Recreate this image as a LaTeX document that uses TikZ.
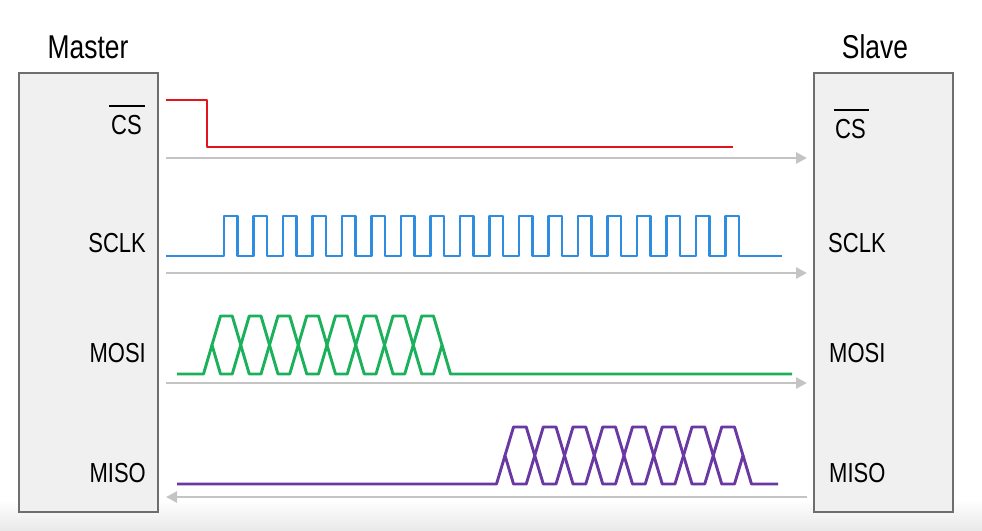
\documentclass[tikz,border=0pt]{standalone}
\usepackage{fontspec}
\setmainfont{Liberation Sans}[FakeStretch=0.80]
\usetikzlibrary{arrows.meta}
\definecolor{boxfill}{HTML}{F0F0F0}
\definecolor{boxline}{HTML}{6E6E6E}
\definecolor{arrgray}{HTML}{C4C4C4}
\definecolor{csred}{HTML}{E3141B}
\definecolor{clkblue}{HTML}{2E8DE0}
\definecolor{mosigreen}{HTML}{1BB05A}
\definecolor{misopurple}{HTML}{6A38A3}
\definecolor{bandgray}{HTML}{E9E9E9}
\tikzset{
  devbox/.style={draw=boxline, fill=boxfill, line width=2pt, minimum width=139pt, minimum height=439pt, inner sep=0pt},
  title/.style={font=\fontsize{33}{36}\selectfont, inner sep=0pt},
  sig/.style={font=\fontsize{27.5}{30}\selectfont, inner sep=0pt},
  wire/.style={draw=arrgray, line width=2.8pt, -{Triangle[length=11pt,width=11pt]}},
  wave/.style={line width=2.9pt, line join=round},
}
\newcommand{\buswave}[7]{% start, first boundary, period, top, low, end, colour
  \draw[wave,#7] (#1,#5) -- ({#2-8.5},#5) -- (#2,{(#4+#5)/2});
  \foreach \k in {0,...,7}{
    \draw[wave,#7] ({#2+#3*\k},{(#4+#5)/2}) -- ({#2+#3*\k+8.5},#4) -- ({#2+#3*(\k+1)-8.5},#4)
      -- ({#2+#3*(\k+1)},{(#4+#5)/2}) -- ({#2+#3*(\k+1)-8.5},#5) -- ({#2+#3*\k+8.5},#5) -- cycle;
  }
  \draw[wave,#7] ({#2+8*#3},{(#4+#5)/2}) -- ({#2+8*#3+8.5},#5) -- (#6,#5);
}
\begin{document}
\begin{tikzpicture}[x=1pt, y=-1pt]
\useasboundingbox (0,0) rectangle (982,530);
\shade[top color=white, bottom color=bandgray] (0,500) rectangle (982,530);

% devices
\node[devbox] (master) at (88.5,292.5) {};
\node[devbox] (slave) at (883.5,292.5) {};
\node[title] (mtitle) at (88,47) {Master};
\node[title] (stitle) at (875,47) {Slave};

% master labels
\node[sig, anchor=east] (mcs) at (142,125) {CS};
\node[sig, anchor=east] (msclk) at (146,243) {SCLK};
\node[sig, anchor=east] (mmosi) at (146,353) {MOSI};
\node[sig, anchor=east] (mmiso) at (146,473) {MISO};
% slave labels
\node[sig, anchor=west] (scs) at (835,129) {CS};
\node[sig, anchor=west] (ssclk) at (828,243) {SCLK};
\node[sig, anchor=west] (smosi) at (829,353) {MOSI};
\node[sig, anchor=west] (smiso) at (829,473) {MISO};
% overlines
\draw[line width=1.7pt] ([xshift=-2pt,yshift=9pt]mcs.north west) -- ([xshift=3pt,yshift=9pt]mcs.north east);
\draw[line width=1.7pt] ([xshift=-1pt,yshift=9pt]scs.north west) -- ([xshift=3pt,yshift=9pt]scs.north east);

% direction arrows
\coordinate (a1) at (166,158);
\coordinate (a2) at (166,273);
\coordinate (a3) at (166,383);
\coordinate (a4) at (166,497);
\draw[wire, shorten >=6pt] (a1) -- (a1 -| slave.west);
\draw[wire, shorten >=6pt] (a2) -- (a2 -| slave.west);
\draw[wire, shorten >=6pt] (a3) -- (a3 -| slave.west);
\draw[wire, shorten <=6pt] (a4 -| slave.west) -- (a4);

% CS
\draw[wave, csred] (166,100) -- (207,100) -- (207,147) -- (733,147);

% SCLK
\draw[wave, clkblue] (166,256)
  foreach \k in {0,...,17} { -- ({224+29.5*\k},256) -- ({224+29.5*\k},216) -- ({237.5+29.5*\k},216) -- ({237.5+29.5*\k},256) }
  -- (782,256);

% MOSI and MISO
\buswave{177}{212}{28.75}{316}{374}{792}{mosigreen}
\buswave{177}{505}{29.75}{427}{484}{778}{misopurple}
\end{tikzpicture}
\end{document}
